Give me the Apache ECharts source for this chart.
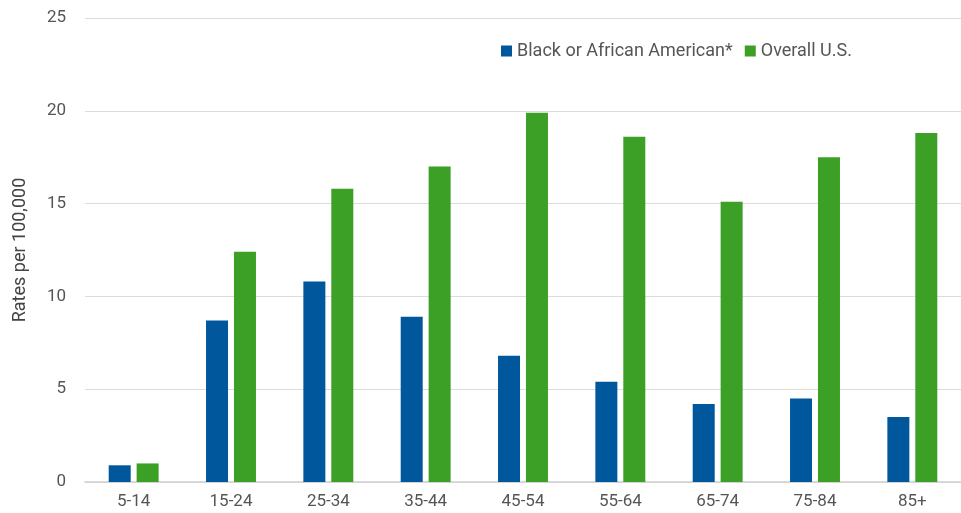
<!DOCTYPE html>
<html>
<head>
<meta charset="utf-8">
<script src="https://cdn.jsdelivr.net/npm/echarts@6/dist/echarts.min.js"></script>
<style>
  html, body { margin: 0; padding: 0; background: #fff; }
  #chart { width: 961px; height: 513px; }
</style>
</head>
<body>
<div id="chart"></div>
<script>
var ageGroups = ['5-14', '15-24', '25-34', '35-44', '45-54', '55-64', '65-74', '75-84', '85+'];
var blackRates = [0.9, 8.7, 10.8, 8.9, 6.8, 5.4, 4.2, 4.5, 3.5];
var overallRates = [1.0, 12.4, 15.8, 17.0, 19.9, 18.6, 15.1, 17.5, 18.8];

var myChart = echarts.init(document.getElementById('chart'));

var option = {
  textStyle: { fontFamily: 'Roboto' },
  legend: {
    top: 37,
    left: 496,
    itemWidth: 11,
    itemHeight: 11,
    itemGap: 12,
    icon: 'rect',
    textStyle: { color: '#555', fontSize: 18 }
  },
  grid: { left: 85, right: 0, top: 18, bottom: 31, outerBoundsMode: 'none' },
  xAxis: {
    type: 'category',
    data: ageGroups,
    axisTick: { show: false },
    axisLine: { lineStyle: { color: '#d0d0d0', width: 1.5 } },
    axisLabel: { color: '#555', fontSize: 17, margin: 11 }
  },
  yAxis: {
    type: 'value',
    min: 0,
    max: 25,
    interval: 5,
    name: 'Rates per 100,000',
    nameLocation: 'middle',
    nameGap: 56,
    nameTextStyle: { color: '#444', fontSize: 18 },
    axisLabel: { color: '#555', fontSize: 17, margin: 19 },
    splitLine: { lineStyle: { color: '#dcdcdc' } }
  },
  series: [
    {
      name: 'Black or African American*',
      type: 'bar',
      data: blackRates,
      barWidth: 22,
      barGap: '27%',
      itemStyle: { color: '#01579b' }
    },
    {
      name: 'Overall U.S.',
      type: 'bar',
      data: overallRates,
      barWidth: 22,
      itemStyle: { color: '#3c9f26' }
    }
  ]
};
option && myChart.setOption(option);
</script>
</body>
</html>
